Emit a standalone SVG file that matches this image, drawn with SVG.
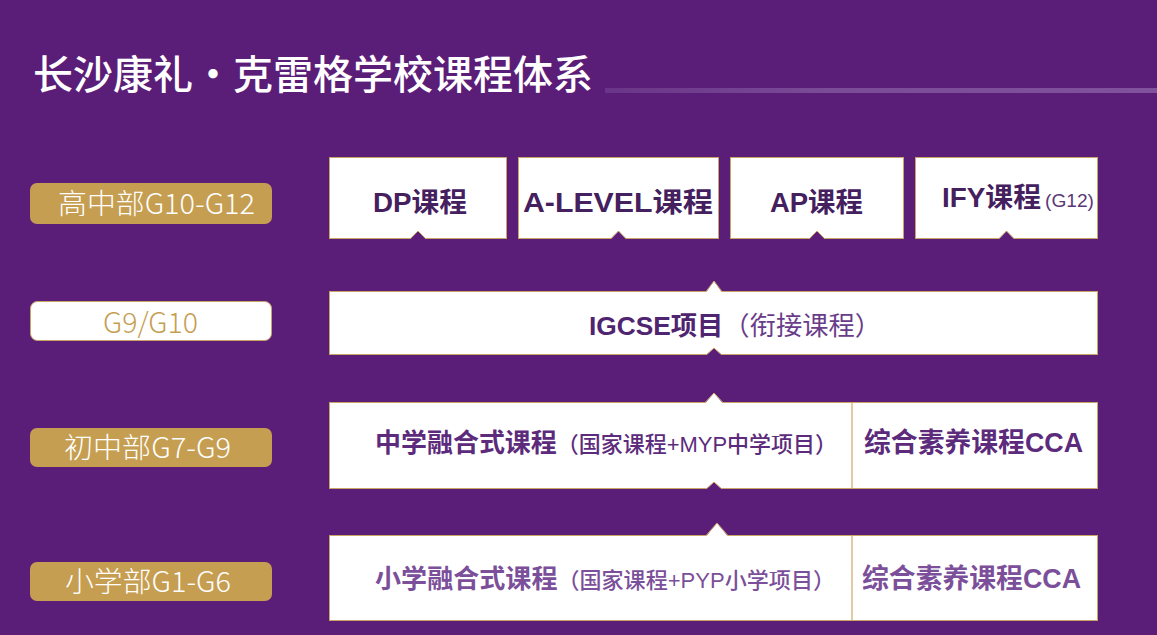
<svg xmlns="http://www.w3.org/2000/svg" width="1157" height="635" viewBox="0 0 1157 635">
<defs>
<linearGradient id="lineGrad" x1="0" y1="0" x2="1" y2="0">
<stop offset="0" stop-color="#6a3588"/>
<stop offset="0.4" stop-color="#7a4b97"/>
<stop offset="1" stop-color="#80529d"/>
</linearGradient>
<style>
text{font-family:"Liberation Sans","Noto Sans CJK SC",sans-serif;}
.cjk{font-family:"Noto Sans CJK SC","Noto Sans",sans-serif;}
.box{fill:#ffffff;stroke:#c9a465;stroke-width:1;}
.gold{fill:#c59e52;}
.lbl{font-family:"Noto Sans CJK SC","Noto Sans",sans-serif;font-size:28px;font-weight:300;fill:#ffffff;}
.top{font-size:27px;font-weight:700;fill:#45205f;}
.div{stroke:#e2cb9e;stroke-width:2;}
.notch{fill:#5b1e78;}
.bump{fill:#ffffff;}
.edge{fill:none;stroke:#c9a465;stroke-width:1;}
</style>
</defs>
<rect x="0" y="0" width="1157" height="635" fill="#5b1e78"/>
<g id="title">
<text class="cjk" x="33" y="89" font-size="40" font-weight="500" fill="#ffffff">长沙康礼</text>
<text class="cjk" x="213" y="89" font-size="40" font-weight="500" fill="#ffffff" text-anchor="middle">·</text>
<text class="cjk" x="233" y="89" font-size="40" font-weight="500" fill="#ffffff">克雷格学校课程体系</text>
<rect x="605" y="88" width="552" height="5" fill="url(#lineGrad)"/>
</g>
<g id="label-senior">
<rect class="gold" x="30" y="183" width="242" height="41" rx="7"/>
<text class="lbl" x="58" y="214" textLength="197" lengthAdjust="spacingAndGlyphs">高中部G10-G12</text>
</g>
<g id="label-g9g10">
<rect x="30.5" y="301.5" width="241" height="39" rx="7" fill="#ffffff" stroke="#c9a465"/>
<text class="lbl" x="103" y="333" textLength="95" lengthAdjust="spacingAndGlyphs" style="fill:#c59e52">G9/G10</text>
</g>
<g id="label-junior">
<rect class="gold" x="30" y="428" width="242" height="39" rx="7"/>
<text class="lbl" x="64" y="458" textLength="167" lengthAdjust="spacingAndGlyphs">初中部G7-G9</text>
</g>
<g id="label-primary">
<rect class="gold" x="30" y="562" width="242" height="39" rx="7"/>
<text class="lbl" x="65" y="592" textLength="166" lengthAdjust="spacingAndGlyphs">小学部G1-G6</text>
</g>
<g id="node-dp">
<rect class="box" x="329.5" y="157.5" width="177" height="81"/>
<text class="top" x="373" y="212" textLength="94" lengthAdjust="spacingAndGlyphs">DP课程</text>
</g>
<g id="node-alevel">
<rect class="box" x="518.5" y="157.5" width="200" height="81"/>
<text class="top" x="523" y="212" textLength="190" lengthAdjust="spacingAndGlyphs">A-LEVEL课程</text>
</g>
<g id="node-ap">
<rect class="box" x="730.5" y="157.5" width="173" height="81"/>
<text class="top" x="770" y="212" textLength="93" lengthAdjust="spacingAndGlyphs">AP课程</text>
</g>
<g id="node-ify">
<rect class="box" x="915.5" y="157.5" width="182" height="81"/>
<text class="top" x="942" y="207" textLength="99" lengthAdjust="spacingAndGlyphs">IFY课程</text>
<text x="1045" y="207" font-size="18" fill="#5a3878" textLength="49" lengthAdjust="spacingAndGlyphs">(G12)</text>
</g>
<g id="node-igcse">
<rect class="box" x="329.5" y="291.5" width="768" height="63"/>
<text x="589" y="335" font-size="26" fill="#4f2470" textLength="292" lengthAdjust="spacingAndGlyphs"><tspan font-weight="700">IGCSE项目</tspan><tspan font-weight="400" fill="#6a3d8a">（衔接课程）</tspan></text>
</g>
<g id="node-middle">
<rect class="box" x="329.5" y="402.5" width="768" height="86"/>
<line class="div" x1="852" y1="403" x2="852" y2="488"/>
<text x="375" y="452" font-size="26" font-weight="700" fill="#5c2b7c" textLength="462" lengthAdjust="spacingAndGlyphs">中学融合式课程<tspan font-size="22" font-weight="500">（国家课程+MYP中学项目）</tspan></text>
<text x="864" y="452" font-size="27" font-weight="700" fill="#5c2b7c" textLength="219" lengthAdjust="spacingAndGlyphs">综合素养课程CCA</text>
</g>
<g id="node-primary">
<rect class="box" x="329.5" y="535.5" width="768" height="85"/>
<line class="div" x1="852" y1="536" x2="852" y2="620"/>
<text x="375" y="588" font-size="26" font-weight="700" fill="#7b4f99" textLength="460" lengthAdjust="spacingAndGlyphs">小学融合式课程<tspan font-size="22" font-weight="500">（国家课程+PYP小学项目）</tspan></text>
<text x="862" y="588" font-size="27" font-weight="700" fill="#7b4f99" textLength="219" lengthAdjust="spacingAndGlyphs">综合素养课程CCA</text>
</g>
<g id="connectors">
<polygon class="notch" points="410,239.5 418,231 426,239.5"/>
<polyline class="edge" points="410,239 418,231 426,239"/>
<polygon class="notch" points="610.5,239.5 618.5,231 626.5,239.5"/>
<polyline class="edge" points="610.5,239 618.5,231 626.5,239"/>
<polygon class="notch" points="809,239.5 817,231 825,239.5"/>
<polyline class="edge" points="809,239 817,231 825,239"/>
<polygon class="notch" points="998.5,239.5 1006.5,231 1014.5,239.5"/>
<polyline class="edge" points="998.5,239 1006.5,231 1014.5,239"/>
<polygon class="bump" points="706,292.5 714,281 722,292.5"/>
<polyline class="edge" points="706,291.5 714,281 722,291.5"/>
<polygon class="notch" points="706,355.5 714,348 722,355.5"/>
<polyline class="edge" points="706,355 714,348 722,355"/>
<polygon class="bump" points="705,403.5 714,393 723,403.5"/>
<polyline class="edge" points="705,402.5 714,393 723,402.5"/>
<polygon class="notch" points="706,489.5 714,482 722,489.5"/>
<polyline class="edge" points="706,489 714,482 722,489"/>
<polygon class="bump" points="706,536.5 717,523 728,536.5"/>
<polyline class="edge" points="706,535.5 717,523 728,535.5"/>
</g>
</svg>
